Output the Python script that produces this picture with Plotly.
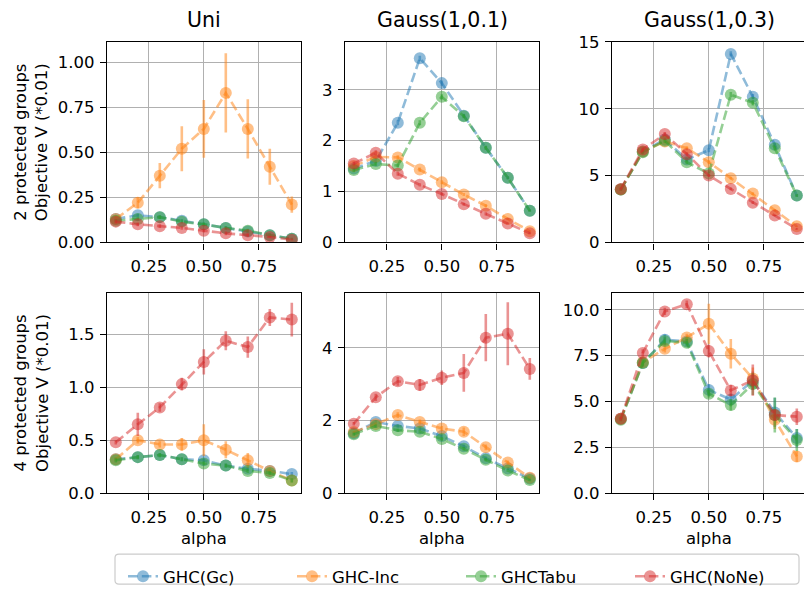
import plotly.graph_objects as go

# ---- data -------------------------------------------------------------
alpha = [0.1, 0.2, 0.3, 0.4, 0.5, 0.6, 0.7, 0.8, 0.9]

series_names = ["GHC(Gc)", "GHC-Inc", "GHCTabu", "GHC(NoNe)"]
series_colors = [(31, 119, 180), (255, 127, 14), (44, 160, 44), (214, 39, 40)]

col_titles = ["Uni", "Gauss(1,0.1)", "Gauss(1,0.3)"]
row_titles = ["2 protected groups<br>Objective V (*0.01)",
              "4 protected groups<br>Objective V (*0.01)"]

# 2 protected groups, Uni
uni2_gc = [0.13, 0.15, 0.14, 0.12, 0.10, 0.08, 0.06, 0.04, 0.02]
uni2_inc = [0.13, 0.22, 0.37, 0.52, 0.63, 0.83, 0.63, 0.42, 0.21]
uni2_tabu = [0.12, 0.13, 0.14, 0.115, 0.10, 0.08, 0.065, 0.04, 0.02]
uni2_none = [0.115, 0.10, 0.09, 0.08, 0.065, 0.05, 0.04, 0.03, 0.015]
uni2_gc_err = [0.01, 0.01, 0.01, 0.01, 0.01, 0.01, 0.01, 0.01, 0.005]
uni2_inc_err = [0.02, 0.03, 0.07, 0.125, 0.16, 0.22, 0.165, 0.10, 0.045]
uni2_tabu_err = [0.01, 0.01, 0.01, 0.01, 0.01, 0.01, 0.01, 0.01, 0.005]
uni2_none_err = [0.01, 0.01, 0.01, 0.01, 0.01, 0.01, 0.01, 0.005, 0.005]

# 2 protected groups, Gauss(1,0.1)
g1_2_gc = [1.45, 1.60, 2.35, 3.62, 3.13, 2.49, 1.86, 1.27, 0.62]
g1_2_inc = [1.50, 1.68, 1.67, 1.43, 1.18, 0.94, 0.72, 0.46, 0.22]
g1_2_tabu = [1.42, 1.54, 1.51, 2.35, 2.86, 2.48, 1.86, 1.27, 0.62]
g1_2_none = [1.55, 1.76, 1.35, 1.13, 0.95, 0.75, 0.56, 0.37, 0.18]
g1_2_gc_err = [0.04, 0.04, 0.05, 0.05, 0.05, 0.04, 0.04, 0.03, 0.02]
g1_2_inc_err = [0.04, 0.04, 0.04, 0.04, 0.04, 0.03, 0.03, 0.02, 0.02]
g1_2_tabu_err = [0.04, 0.04, 0.04, 0.05, 0.05, 0.04, 0.04, 0.03, 0.02]
g1_2_none_err = [0.04, 0.05, 0.04, 0.03, 0.03, 0.03, 0.03, 0.02, 0.02]

# 2 protected groups, Gauss(1,0.3)
g3_2_gc = [3.95, 6.80, 7.70, 6.20, 6.90, 14.10, 10.90, 7.30, 3.50]
g3_2_inc = [3.95, 6.80, 7.55, 7.05, 6.00, 4.80, 3.65, 2.40, 1.20]
g3_2_tabu = [3.95, 6.75, 7.60, 6.00, 5.15, 11.05, 10.45, 7.05, 3.50]
g3_2_none = [4.00, 6.95, 8.10, 6.60, 5.00, 4.00, 2.97, 2.00, 1.00]
g3_2_gc_err = [0.1, 0.15, 0.15, 0.15, 0.15, 0.2, 0.2, 0.15, 0.1]
g3_2_inc_err = [0.1, 0.15, 0.15, 0.15, 0.15, 0.1, 0.1, 0.1, 0.05]
g3_2_tabu_err = [0.1, 0.15, 0.15, 0.15, 0.15, 0.2, 0.2, 0.15, 0.1]
g3_2_none_err = [0.1, 0.15, 0.15, 0.15, 0.1, 0.1, 0.1, 0.05, 0.05]

# 4 protected groups, Uni
uni4_gc = [0.32, 0.34, 0.36, 0.32, 0.31, 0.26, 0.23, 0.21, 0.18]
uni4_inc = [0.32, 0.50, 0.46, 0.46, 0.50, 0.41, 0.31, 0.21, 0.12]
uni4_tabu = [0.31, 0.34, 0.36, 0.32, 0.28, 0.26, 0.21, 0.19, 0.12]
uni4_none = [0.48, 0.65, 0.81, 1.03, 1.24, 1.44, 1.38, 1.66, 1.64]
uni4_gc_err = [0.02, 0.02, 0.02, 0.02, 0.02, 0.02, 0.02, 0.02, 0.02]
uni4_inc_err = [0.02, 0.03, 0.03, 0.06, 0.15, 0.08, 0.07, 0.03, 0.02]
uni4_tabu_err = [0.02, 0.02, 0.02, 0.02, 0.02, 0.02, 0.02, 0.02, 0.02]
uni4_none_err = [0.02, 0.11, 0.04, 0.06, 0.12, 0.09, 0.10, 0.08, 0.16]

# 4 protected groups, Gauss(1,0.1)
g1_4_gc = [1.65, 1.96, 1.85, 1.78, 1.57, 1.29, 0.96, 0.68, 0.40]
g1_4_inc = [1.68, 1.90, 2.15, 1.96, 1.78, 1.69, 1.26, 0.84, 0.42]
g1_4_tabu = [1.62, 1.85, 1.73, 1.69, 1.49, 1.22, 0.92, 0.62, 0.36]
g1_4_none = [1.91, 2.64, 3.08, 2.98, 3.18, 3.31, 4.28, 4.39, 3.42]
g1_4_gc_err = [0.04, 0.05, 0.05, 0.05, 0.05, 0.05, 0.05, 0.04, 0.03]
g1_4_inc_err = [0.03, 0.05, 0.08, 0.07, 0.07, 0.12, 0.08, 0.06, 0.03]
g1_4_tabu_err = [0.04, 0.05, 0.05, 0.05, 0.05, 0.05, 0.05, 0.04, 0.03]
g1_4_none_err = [0.05, 0.10, 0.12, 0.16, 0.20, 0.52, 0.65, 0.87, 0.30]

# 4 protected groups, Gauss(1,0.3)
g3_4_gc = [4.05, 7.10, 8.36, 8.27, 5.63, 5.10, 6.13, 4.40, 3.00]
g3_4_inc = [4.05, 7.13, 7.87, 8.49, 9.23, 7.60, 6.25, 4.00, 2.00]
g3_4_tabu = [4.00, 7.10, 8.30, 8.20, 5.42, 4.80, 5.95, 4.26, 2.90]
g3_4_none = [4.05, 7.64, 9.91, 10.30, 7.75, 5.60, 6.16, 4.26, 4.17]
g3_4_gc_err = [0.1, 0.2, 0.3, 0.2, 0.3, 0.3, 0.5, 0.8, 0.5]
g3_4_inc_err = [0.1, 0.2, 0.2, 0.2, 1.1, 0.8, 0.6, 0.5, 0.3]
g3_4_tabu_err = [0.1, 0.2, 0.2, 0.2, 0.2, 0.3, 0.6, 0.95, 0.6]
g3_4_none_err = [0.1, 0.2, 0.2, 0.2, 0.35, 0.3, 0.85, 0.3, 0.45]

# y-axis ranges and tick settings per panel
y_ranges = [[0, 1.113], [0, 3.94], [0, 15.0], [0, 1.894], [0, 5.52], [0, 10.93]]
y_dticks = [0.25, 1, 5, 0.5, 2, 2.5]
y_formats = [".2f", "d", "d", ".1f", "d", ".1f"]
x_ticks = [0.25, 0.50, 0.75]
x_ticklabels = ["0.25", "0.50", "0.75"]

panels = [
    [(uni2_gc, uni2_gc_err), (uni2_inc, uni2_inc_err), (uni2_tabu, uni2_tabu_err), (uni2_none, uni2_none_err)],
    [(g1_2_gc, g1_2_gc_err), (g1_2_inc, g1_2_inc_err), (g1_2_tabu, g1_2_tabu_err), (g1_2_none, g1_2_none_err)],
    [(g3_2_gc, g3_2_gc_err), (g3_2_inc, g3_2_inc_err), (g3_2_tabu, g3_2_tabu_err), (g3_2_none, g3_2_none_err)],
    [(uni4_gc, uni4_gc_err), (uni4_inc, uni4_inc_err), (uni4_tabu, uni4_tabu_err), (uni4_none, uni4_none_err)],
    [(g1_4_gc, g1_4_gc_err), (g1_4_inc, g1_4_inc_err), (g1_4_tabu, g1_4_tabu_err), (g1_4_none, g1_4_none_err)],
    [(g3_4_gc, g3_4_gc_err), (g3_4_inc, g3_4_inc_err), (g3_4_tabu, g3_4_tabu_err), (g3_4_none, g3_4_none_err)],
]

# ---- layout geometry (pixels) ----------------------------------------
W, H = 804, 598
FONT = "DejaVu Sans"
col_px = [(107, 301), (345, 539), (612, 804)]
row_px = [(34, 241), (293, 500)]
X_SCALE = 220.0  # px per unit alpha
X_MIN = 0.06


def px_x(p):
    return p / W


def px_y(p):
    return 1 - p / H


def rgba(c, a):
    return f"rgba({c[0]},{c[1]},{c[2]},{a})"


fig = go.Figure()

for i, panel in enumerate(panels):
    r, c = divmod(i, 3)
    suffix = "" if i == 0 else str(i + 1)
    for k, (vals, errs) in enumerate(panel):
        col = series_colors[k]
        fig.add_trace(go.Scatter(
            x=alpha, y=vals,
            mode="lines+markers",
            name=series_names[k],
            legendgroup=series_names[k],
            showlegend=(i == 0),
            line=dict(color=rgba(col, 0.5), width=2.6, dash="9.6px,4.2px"),
            marker=dict(color=rgba(col, 0.5), size=12, line=dict(width=0)),
            error_y=dict(type="data", array=errs, visible=True,
                         color=rgba(col, 0.5), thickness=2.6, width=0),
            xaxis="x" + suffix, yaxis="y" + suffix,
        ))

    x0, x1 = col_px[c]
    y0, y1 = row_px[r]
    x_hi = X_MIN + (x1 - x0) / X_SCALE
    axis_common = dict(
        showline=True, linecolor="black", linewidth=1.4,
        ticks="outside", ticklen=6, tickwidth=1.4, tickcolor="black",
        showgrid=True, gridcolor="#b0b0b0", gridwidth=1.4,
        zeroline=False,
        tickfont=dict(family=FONT, size=16.5, color="black"),
    )
    fig.layout["xaxis" + suffix] = dict(
        axis_common,
        domain=[px_x(x0), px_x(x1)],
        range=[X_MIN, x_hi],
        tickvals=x_ticks, ticktext=x_ticklabels,
        ticklabelstandoff=3,
        mirror=True,
        anchor="y" + suffix,
    )
    fig.layout["yaxis" + suffix] = dict(
        axis_common,
        domain=[px_y(y1), px_y(y0)],
        range=y_ranges[i],
        dtick=y_dticks[i], tick0=0, tickformat=y_formats[i],
        ticklabelstandoff=2,
        mirror=(c != 2),
        anchor="x" + suffix,
    )

annotations = []
for c, title in enumerate(col_titles):
    x0, x1 = col_px[c]
    cx = (x0 + x0 + 194) / 2
    annotations.append(dict(
        text=title, x=px_x(cx), y=px_y(11), xref="paper", yref="paper",
        xanchor="center", yanchor="middle", showarrow=False,
        font=dict(family=FONT, size=20.5, color="black"),
    ))
    annotations.append(dict(
        text="alpha", x=px_x(cx), y=px_y(547), xref="paper", yref="paper",
        xanchor="center", yanchor="middle", showarrow=False,
        font=dict(family=FONT, size=16.5, color="black"),
    ))
for r, label in enumerate(row_titles):
    y0, y1 = row_px[r]
    annotations.append(dict(
        text=label, x=px_x(31), y=px_y((y0 + y1) / 2), xref="paper", yref="paper",
        xanchor="center", yanchor="middle", showarrow=False, textangle=-90,
        font=dict(family=FONT, size=16.5, color="black"),
    ))

# rounded legend frame, built in pixels then mapped to paper coordinates
lx0, lx1, ly0, ly1, rad = 115, 799, 563, 594, 4
frame_pts = [
    ("M", [(lx0 + rad, ly0)]), ("L", [(lx1 - rad, ly0)]), ("Q", [(lx1, ly0), (lx1, ly0 + rad)]),
    ("L", [(lx1, ly1 - rad)]), ("Q", [(lx1, ly1), (lx1 - rad, ly1)]),
    ("L", [(lx0 + rad, ly1)]), ("Q", [(lx0, ly1), (lx0, ly1 - rad)]),
    ("L", [(lx0, ly0 + rad)]), ("Q", [(lx0, ly0), (lx0 + rad, ly0)]),
]
frame_path = " ".join(
    cmd + " " + " ".join(f"{px_x(a):.5f},{px_y(b):.5f}" for a, b in pts)
    for cmd, pts in frame_pts
) + " Z"

fig.update_layout(
    width=W, height=H,
    autosize=False,
    margin=dict(l=0, r=0, t=0, b=0),
    paper_bgcolor="white",
    plot_bgcolor="white",
    font=dict(family=FONT, size=16.5, color="black"),
    annotations=annotations,
    shapes=[dict(type="path", path=frame_path,
                 xref="paper", yref="paper",
                 line=dict(color="#cccccc", width=1.2),
                 fillcolor="rgba(255,255,255,0.8)", layer="below")],
    legend=dict(
        orientation="h",
        x=px_x(123), xanchor="left",
        y=px_y(568), yanchor="top",
        borderwidth=0,
        bgcolor="rgba(0,0,0,0)",
        entrywidth=124,
        font=dict(family=FONT, size=16.5, color="black"),
    ),
)

fig.write_html("out.html")
